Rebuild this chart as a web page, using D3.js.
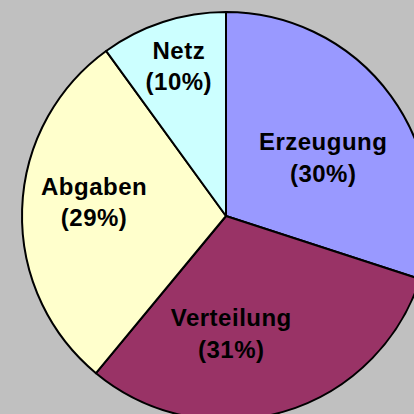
<!DOCTYPE html>
<html>
<head>
<meta charset="utf-8">
<script src="https://cdn.jsdelivr.net/npm/d3@7"></script>
<style>
  html, body { margin: 0; padding: 0; background: #c0c0c0; }
  svg { display: block; }
</style>
</head>
<body>
<svg id="chart" width="414" height="414"></svg>
<script>
// Data
const categories = ["Erzeugung", "Verteilung", "Abgaben", "Netz"];
const values = [30, 31, 29, 10];
const percentLabels = ["(30%)", "(31%)", "(29%)", "(10%)"];
const colors = ["#9999ff", "#993366", "#ffffcc", "#ccffff"];

// Layout
const W = 414, H = 414;
const cx = 226, cy = 216, R = 204;
const labelR = 130;
const nudges = {
  "Erzeugung": [-8, 18],
  "Verteilung": [-31, -7],
  "Abgaben": [-2, -9.5],
  "Netz": [-7, -26]
};

const svg = d3.select("#chart");
svg.append("rect").attr("width", W).attr("height", H).attr("fill", "#c0c0c0");

const data = categories.map((c, i) => ({ name: c, value: values[i], pct: percentLabels[i], color: colors[i] }));

const pie = d3.pie().value(d => d.value).sort(null).startAngle(0).endAngle(2 * Math.PI);
const arcs = pie(data);
const arc = d3.arc().innerRadius(0).outerRadius(R);
const labelArc = d3.arc().innerRadius(labelR).outerRadius(labelR);

const g = svg.append("g").attr("transform", `translate(${cx},${cy})`);

g.selectAll("path.slice")
  .data(arcs)
  .join("path")
  .attr("class", "slice")
  .attr("d", arc)
  .attr("fill", d => d.data.color)
  .attr("stroke", "#000")
  .attr("stroke-width", 2)
  .attr("stroke-linejoin", "round");

const labels = g.selectAll("text.lbl")
  .data(arcs)
  .join("text")
  .attr("class", "lbl")
  .attr("text-anchor", "middle")
  .attr("font-family", "'Liberation Sans', Arial, sans-serif")
  .attr("font-weight", "bold")
  .attr("font-size", 24)
  .attr("letter-spacing", 0.5)
  .attr("fill", "#000")
  .attr("transform", d => {
    const [x, y] = labelArc.centroid(d);
    const n = nudges[d.data.name];
    return `translate(${x + n[0]},${y + n[1]})`;
  });

labels.append("tspan").attr("x", 0).attr("y", -7.5).text(d => d.data.name);
labels.append("tspan").attr("x", 0).attr("y", 24).text(d => d.data.pct);
</script>
</body>
</html>
